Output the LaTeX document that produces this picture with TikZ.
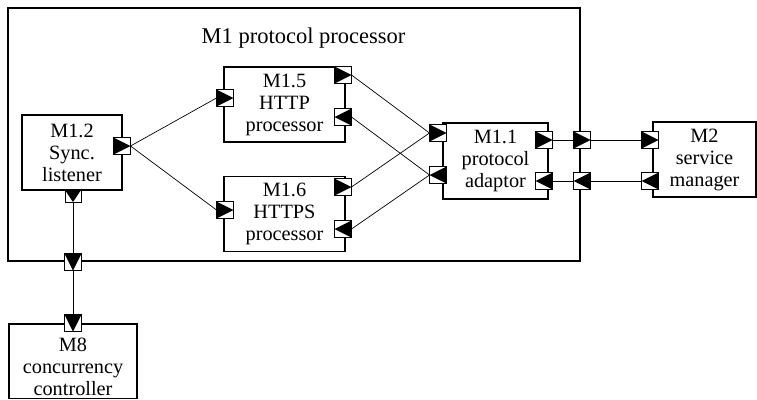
\documentclass[tikz,border=0pt]{standalone}
\usepackage{fontspec}
\setmainfont{Liberation Serif}
\usetikzlibrary{backgrounds}
\begin{document}
\begin{tikzpicture}[x=1pt,y=-1pt,
  box/.style={draw, line width=1.2pt, align=center, inner sep=0pt, font=\fontsize{20.3}{22}\selectfont},
  txt/.style={align=center, inner sep=0pt, font=\fontsize{20.3}{22}\selectfont},
  port/.style={draw, fill=white, line width=0.9pt, minimum size=17pt, inner sep=0pt, outer sep=0pt},
  portR/.style={port, path picture={\fill[black] (path picture bounding box.north west) -- (path picture bounding box.east) -- (path picture bounding box.south west) -- cycle;}},
  portL/.style={port, path picture={\fill[black] (path picture bounding box.north east) -- (path picture bounding box.west) -- (path picture bounding box.south east) -- cycle;}},
  portD/.style={port, path picture={\fill[black] (path picture bounding box.north west) -- (path picture bounding box.north east) -- (path picture bounding box.south) -- cycle;}},
  wire/.style={line width=0.7pt}]
\useasboundingbox (0,0) rectangle (757,399);

% outer module
\node[draw, line width=1.3pt, minimum width=572pt, minimum height=253pt, inner sep=0pt] (m1) at (294,134.5) {};
\node[anchor=base, inner sep=0pt, font=\fontsize{22.5}{24}\selectfont] (m1t) at (303.5,43) {M1 protocol processor};

% modules
\node[box, minimum width=100pt, minimum height=75pt] (m12) at (72,152.5) {M1.2\\Sync.\\listener};
\node[box, minimum width=121pt, minimum height=75pt] (m15) at (284.5,104.5) {M1.5\\HTTP\\processor};
\node[box, minimum width=121pt, minimum height=75pt] (m16) at (284.5,214) {M1.6\\HTTPS\\processor};
\node[box, minimum width=105pt, minimum height=76pt] (m11) at (495.5,161) {M1.1\\protocol\\adaptor};
\node[box, minimum width=103pt, minimum height=75pt] (m2) at (704.5,159.5) {M2\\service\\manager};
\node[draw, line width=1.2pt, minimum width=128pt, minimum height=74.5pt, inner sep=0pt] (m8) at (73,361.25) {};
\node[txt] (m8t) at (73,367) {M8\\concurrency\\controller};

% ports
\node[portR] (p12r) at (122,146) {};
\node[portD, minimum height=12pt, minimum width=16pt] (p12b) at (73,196) {};
\node[portR] (p15l) at (225,98) {};
\node[portR] (p15a) at (343,75) {};
\node[portL] (p15b) at (343,117) {};
\node[portR] (p16l) at (225,210) {};
\node[portR] (p16a) at (343,187) {};
\node[portL] (p16b) at (343,229) {};
\node[portR] (p11la) at (438,133) {};
\node[portL] (p11lb) at (438,175) {};
\node[portR] (p11ra) at (544,140) {};
\node[portL] (p11rb) at (544,181) {};
\node[portR] (poa) at (582,140) {};
\node[portL] (pob) at (582,181) {};
\node[portD] (pod) at (73,262) {};
\node[portR] (p2a) at (650,140) {};
\node[portL] (p2b) at (650,181) {};
\node[portD] (p8) at (73,323) {};

% connectors
\begin{pgfonlayer}{background}
\draw[wire] (p12r.east) -- (p15l.west);
\draw[wire] (p12r.east) -- (p16l.west);
\draw[wire] (p15a.east) -- (p11la.west);
\draw[wire] (p16a.east) -- (p11la.west);
\draw[wire] (p15b.east) -- (p11lb.west);
\draw[wire] (p16b.east) -- (p11lb.west);
\draw[wire] (p11ra.east) -- (poa.west);
\draw[wire] (poa.east) -- (p2a.west);
\draw[wire] (p11rb.east) -- (pob.west);
\draw[wire] (pob.east) -- (p2b.west);
\draw[wire] (p12b.south) -- (pod.north);
\draw[wire] (pod.south) -- (p8.north);
\end{pgfonlayer}
\end{tikzpicture}
\end{document}
